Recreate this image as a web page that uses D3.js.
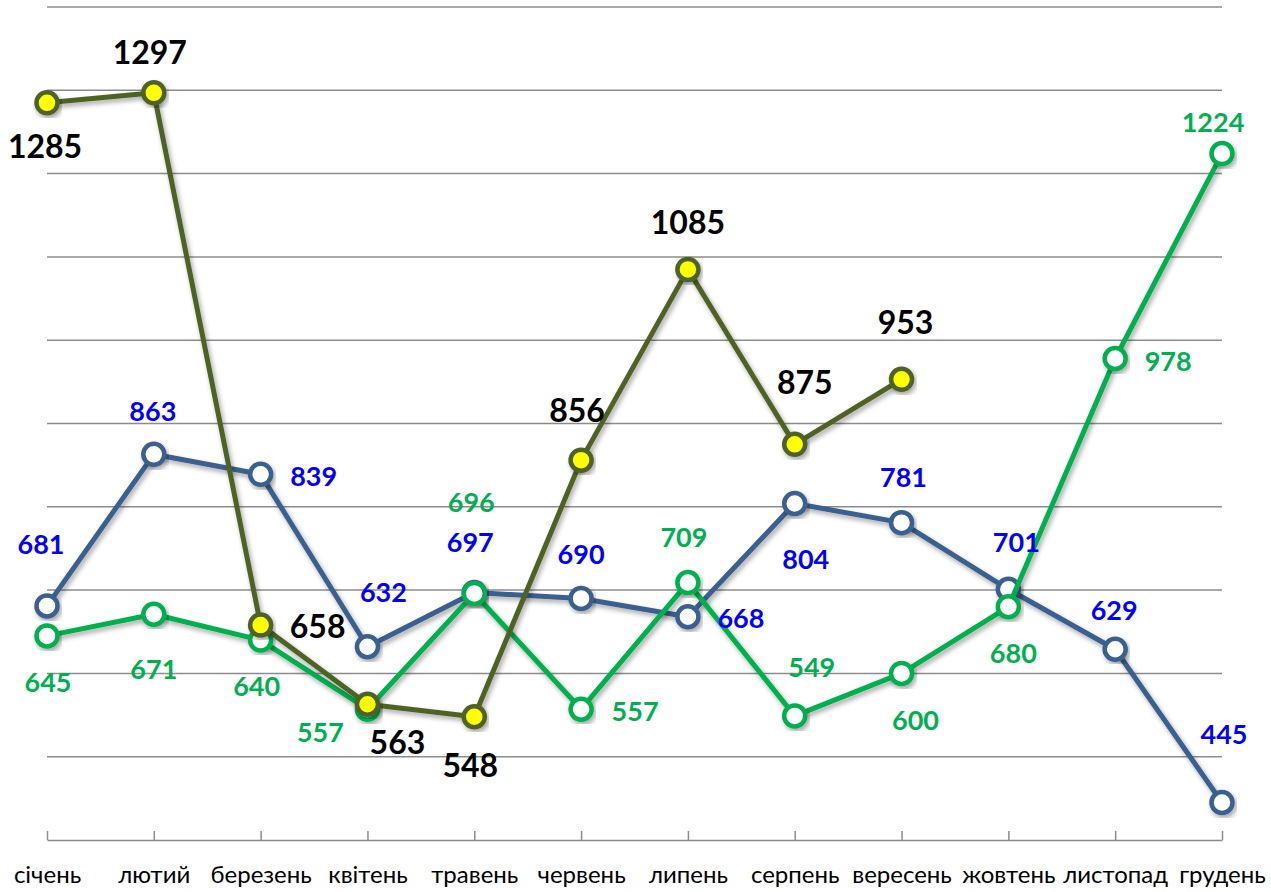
<!DOCTYPE html>
<html>
<head>
<meta charset="utf-8">
<script src="https://cdn.jsdelivr.net/npm/d3@7"></script>
<style>
  html, body { margin: 0; padding: 0; background: #fff; }
  svg { display: block; }
  .cat { font-family: Lato, "Open Sans", sans-serif; font-size: 24px; fill: #000; }
  .lbl { font-family: Lato, "Open Sans", sans-serif; font-weight: bold; }
</style>
</head>
<body>
<script>
const width = 1271,
  height = 892;

// months (category axis)
const months = ['січень', 'лютий', 'березень', 'квітень', 'травень', 'червень',
  'липень', 'серпень', 'вересень', 'жовтень', 'листопад', 'грудень'];

// series values
const blueValues = [681, 863, 839, 632, 697, 690, 668, 804, 781, 701, 629, 445];
const greenValues = [645, 671, 640, 557, 696, 557, 709, 549, 600, 680, 978, 1224];
const oliveValues = [1285, 1297, 658, 563, 548, 856, 1085, 875, 953];

// gridline values
const gridTicks = [500, 600, 700, 800, 900, 1000, 1100, 1200, 1300, 1400];

// label offsets [dx, dy] relative to each point
const blueOffsets = [[-6, -61], [-1, -43], [53, 2], [16, -54], [-4, -50], [0, -44],
  [53, 2], [11, 56], [2, -45], [8, -47], [-1, -39], [2, -68]];
const greenOffsets = [[1, 47], [0, 55], [-4, 46], [-47, 23], [-3, -91], [54, 2],
  [-4, -45], [17, -48], [14, 47], [5, 47], [53, 3], [-9, -31]];
const oliveOffsets = [[-2, 44], [-4, -40], [57, 2], [30, 39], [-4, 49], [-4, -49],
  [0, -47], [10, -62], [4, -57]];

const x = d3.scalePoint().domain(months).range([47, 1222]);
const y = d3.scaleLinear().domain([400, 1400]).range([840, 7]);

const svg = d3.select('body').append('svg')
  .attr('width', width)
  .attr('height', height);

// soft drop shadow like the office chart
const defs = svg.append('defs');
defs.append('filter')
  .attr('id', 'shadow')
  .attr('x', '-20%').attr('y', '-20%')
  .attr('width', '140%').attr('height', '140%')
  .append('feDropShadow')
  .attr('dx', 2).attr('dy', 3)
  .attr('stdDeviation', 2.5)
  .attr('flood-color', '#000')
  .attr('flood-opacity', 0.35);

// gridlines
svg.append('g')
  .selectAll('line')
  .data(gridTicks)
  .join('line')
  .attr('x1', x.range()[0])
  .attr('x2', x.range()[1])
  .attr('y1', d => y(d))
  .attr('y2', d => y(d))
  .attr('stroke', '#8c8c8c')
  .attr('stroke-width', 1.5);

// category axis
const xAxis = svg.append('g')
  .attr('transform', `translate(0,${y(400)})`)
  .call(d3.axisBottom(x).tickSize(0).tickSizeOuter(0).tickPadding(0));
xAxis.attr('font-size', null).attr('font-family', null);
xAxis.select('.domain').attr('stroke', '#8c8c8c').attr('stroke-width', 1.5);
xAxis.selectAll('.tick line').attr('stroke', '#8c8c8c').attr('stroke-width', 1.5)
  .attr('y1', 0).attr('y2', -9);
xAxis.selectAll('.tick text')
  .attr('class', 'cat')
  .attr('y', 43)
  .attr('dy', 0);

const series = [
  { values: blueValues, offsets: blueOffsets, line: '#3a5f8e', fill: '#fff', text: '#0000ff', size: 27 },
  { values: greenValues, offsets: greenOffsets, line: '#00b050', fill: '#fff', text: '#00b050', size: 27 },
  { values: oliveValues, offsets: oliveOffsets, line: '#4f6228', fill: '#ffff00', text: '#000', size: 32 }
];

const line = d3.line()
  .x((d, i) => x(months[i]))
  .y(d => y(d));

series.forEach(s => {
  const g = svg.append('g');
  g.append('path')
    .datum(s.values)
    .attr('d', line)
    .attr('fill', 'none')
    .attr('stroke', s.line)
    .attr('stroke-width', 5)
    .attr('stroke-linejoin', 'round')
    .attr('filter', 'url(#shadow)');

  g.selectAll('circle')
    .data(s.values)
    .join('circle')
    .attr('cx', (d, i) => x(months[i]))
    .attr('cy', d => y(d))
    .attr('r', 10.5)
    .attr('fill', s.fill)
    .attr('stroke', s.line)
    .attr('stroke-width', 4.5)
    .attr('filter', 'url(#shadow)');
});

// data labels drawn on top
series.forEach(s => {
  svg.append('g')
    .selectAll('text')
    .data(s.values)
    .join('text')
    .attr('class', 'lbl')
    .attr('x', (d, i) => x(months[i]) + s.offsets[i][0])
    .attr('y', (d, i) => y(d) + s.offsets[i][1])
    .attr('dy', '0.35em')
    .attr('text-anchor', 'middle')
    .attr('font-size', s.size)
    .attr('fill', s.text)
    .text(d => d);
});
</script>
</body>
</html>
